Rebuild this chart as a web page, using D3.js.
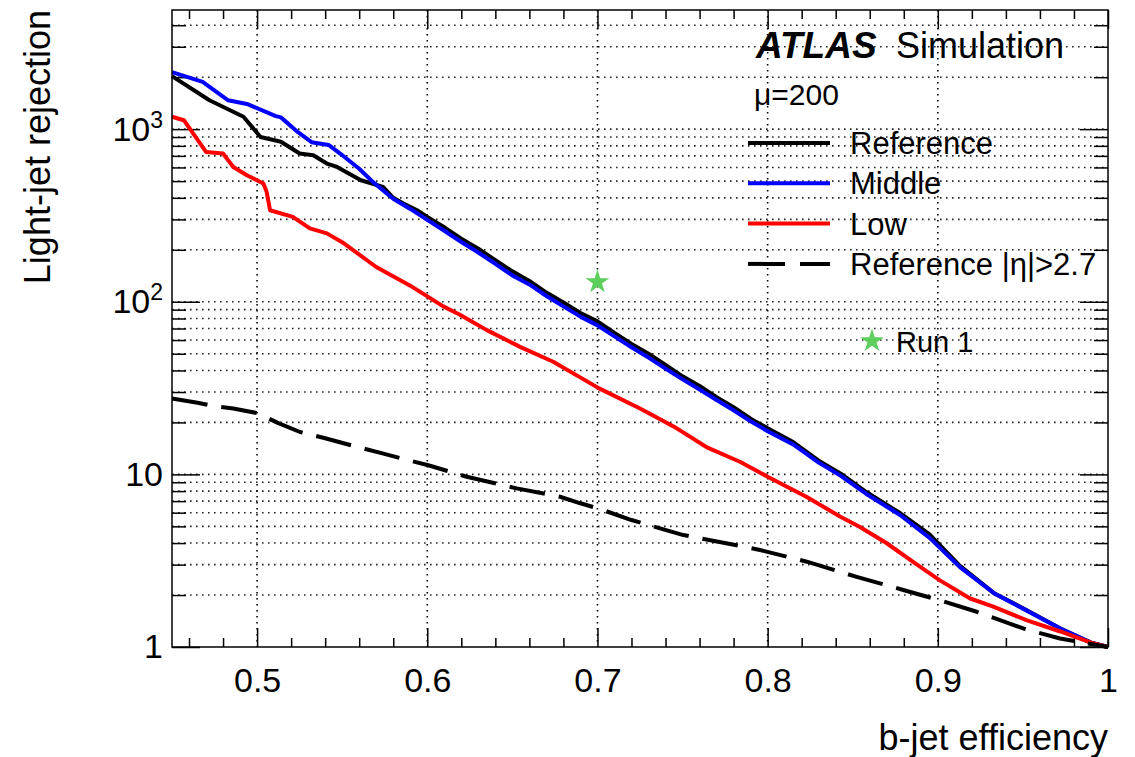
<!DOCTYPE html>
<html>
<head>
<meta charset="utf-8">
<script src="https://cdn.jsdelivr.net/npm/d3@7"></script>
<style>
  body { margin: 0; background: #fff; }
  svg { font-family: "Liberation Sans", Arial, Helvetica, sans-serif; }
</style>
</head>
<body>
<script>
// curves: [b-jet efficiency, light-jet rejection]
const refCurve = [[0.450,2030],[0.472,1470],[0.492,1180],[0.502,900],[0.514,845],[0.525,722],[0.533,706],
  [0.541,632],[0.547,604],[0.561,506],[0.574,463],[0.580,400],[0.586,371],[0.594,339],[0.600,310],[0.610,270],
  [0.620,232],[0.630,203],[0.640,174],[0.650,150],[0.660,132],[0.670,113],[0.680,99],[0.690,86],[0.700,77],
  [0.710,66],[0.720,57],[0.730,50],[0.740,43],[0.750,37],[0.760,32.5],[0.770,28],[0.780,24.5],[0.790,21],
  [0.800,18.5],[0.815,15.4],[0.830,12],[0.843,10.1],[0.858,7.9],[0.878,5.95],[0.895,4.5],[0.913,2.95],
  [0.933,2.05],[0.952,1.64],[0.972,1.28],[0.990,1.06],[1.0,1.0]]
const middleCurve = [[0.450,2140],[0.468,1880],[0.483,1470],[0.494,1400],[0.511,1190],[0.514,1170],[0.524,960],
  [0.532,840],[0.542,810],[0.549,720],[0.560,590],[0.568,495],[0.580,395],[0.590,345],[0.600,298],[0.610,258],
  [0.620,222],[0.630,193],[0.640,166],[0.650,142],[0.660,126],[0.670,108],[0.680,94],[0.690,82],[0.700,73],
  [0.710,63],[0.720,54.5],[0.730,47.5],[0.740,41],[0.750,35.5],[0.760,31],[0.770,27],[0.780,23.5],[0.790,20.3],
  [0.800,17.8],[0.815,14.9],[0.830,11.7],[0.843,9.8],[0.858,7.7],[0.878,5.8],[0.895,4.3],[0.913,2.9],
  [0.933,2.05],[0.952,1.63],[0.972,1.28],[0.990,1.06],[1.0,1.0]]
const lowCurve = [[0.450,1180],[0.457,1126],[0.4625,943],[0.470,738],[0.480,722],[0.486,604],[0.494,541],
  [0.5037,484],[0.5056,433],[0.5076,339],[0.521,310],[0.531,266],[0.541,249],[0.551,218],[0.570,159],
  [0.590,124],[0.6094,94],[0.6192,84],[0.635,68.5],[0.6545,54.8],[0.674,44.9],[0.701,31.5],[0.725,24.1],
  [0.745,18.9],[0.764,14.4],[0.784,11.8],[0.800,9.7],[0.823,7.4],[0.8425,5.7],[0.854,4.97],[0.870,3.99],
  [0.884,3.19],[0.901,2.44],[0.919,1.91],[0.933,1.71],[0.952,1.43],[0.972,1.23],[0.990,1.06],[1.0,1.0]]
const fwdCurve = [[0.450,27.5],[0.465,26],[0.475,24.8],[0.486,24.1],[0.5005,22.6],[0.5125,19.8],[0.5252,17.6],
  [0.540,16.2],[0.5546,14.8],[0.5742,13.2],[0.587,12.2],[0.6006,11.3],[0.6232,9.69],[0.6525,8.3],[0.678,7.42],
  [0.690,6.8],[0.7015,6.3],[0.720,5.44],[0.7505,4.45],[0.781,3.9],[0.7955,3.65],[0.823,3.12],[0.8523,2.55],
  [0.8797,2.14],[0.9007,1.87],[0.9229,1.60],[0.9502,1.28],[0.9718,1.12],[1.0,1.0]]
const run1Point = [[0.70, 130]]

const seriesNames = ['Reference', 'Middle', 'Low', 'Reference |η|>2.7']
const xTickValues = [0.5, 0.6, 0.7, 0.8, 0.9, 1.0]
const yTickValues = [1, 10, 100, 1000]

const W = 1135, H = 757
const padL = 172, padR = 1108, padT = 10, padB = 647

let svg = d3.select('body').append('svg')
    .attr('width', W)
    .attr('height', H)

let x = d3.scaleLinear().domain([0.45, 1]).range([padL, padR])
let y = d3.scaleLog().domain([1, 4900]).range([padB, padT])

let xMinor = d3.range(0.46, 0.999, 0.02).filter(v => !xTickValues.some(t => Math.abs(t - v) < 1e-6))
let yMinor = []
yTickValues.forEach(d => { for (let k = 2; k <= 9; k++) if (d * k < 4900) yMinor.push(d * k) })

// grid
let grid = svg.append('g').attr('stroke', '#000').attr('stroke-width', 1.6)
    .attr('stroke-dasharray', '1.6,4.4')
grid.selectAll('.gx').data(xTickValues.filter(v => v < 1)).join('line')
    .attr('x1', d => x(d)).attr('x2', d => x(d)).attr('y1', padT).attr('y2', padB)
grid.selectAll('.gy').data(yTickValues.slice(1).concat(yMinor)).join('line')
    .attr('y1', d => y(d)).attr('y2', d => y(d)).attr('x1', padL).attr('x2', padR)
    .attr('stroke-opacity', 0.85)

// ticks (inside the frame, on all four sides)
function ticks(axis, tr) {
    svg.append('g').attr('transform', tr).call(axis)
        .call(g => g.select('.domain').remove())
        .call(g => g.selectAll('line').attr('stroke', '#000').attr('stroke-width', 1.5))
}
ticks(d3.axisTop(x).tickValues(xTickValues).tickSize(19).tickFormat(''), `translate(0,${padB})`)
ticks(d3.axisTop(x).tickValues(xMinor).tickSize(9).tickFormat(''), `translate(0,${padB})`)
ticks(d3.axisBottom(x).tickValues(xTickValues).tickSize(19).tickFormat(''), `translate(0,${padT})`)
ticks(d3.axisBottom(x).tickValues(xMinor).tickSize(9).tickFormat(''), `translate(0,${padT})`)
ticks(d3.axisRight(y).tickValues(yTickValues).tickSize(28).tickFormat(''), `translate(${padL},0)`)
ticks(d3.axisRight(y).tickValues(yMinor).tickSize(14).tickFormat(''), `translate(${padL},0)`)
ticks(d3.axisLeft(y).tickValues(yTickValues).tickSize(28).tickFormat(''), `translate(${padR},0)`)
ticks(d3.axisLeft(y).tickValues(yMinor).tickSize(14).tickFormat(''), `translate(${padR},0)`)

// tick labels
svg.append('g').attr('transform', `translate(0,${padB})`)
    .call(d3.axisBottom(x).tickValues(xTickValues).tickSize(0).tickPadding(21)
        .tickFormat(d => d === 1 ? '1' : d3.format('.1f')(d)))
    .call(g => g.select('.domain').remove())
    .call(g => g.selectAll('text').attr('font-size', 34).attr('fill', '#000'))
    .attr('font-family', null)

svg.append('g').attr('transform', `translate(${padL},0)`)
    .call(d3.axisLeft(y).tickValues(yTickValues).tickSize(0).tickPadding(9).tickFormat(''))
    .call(g => g.select('.domain').remove())
    .attr('font-family', null)
    .call(g => g.selectAll('text').attr('font-size', 34).attr('fill', '#000')
        .each(function(d) {
            let t = d3.select(this)
            let e = Math.round(Math.log10(d))
            if (e < 2) { t.text(String(d)); return }
            t.append('tspan').text('10')
            t.append('tspan').attr('dy', -13).attr('font-size', 23).text(e)
        }))

// curves
let line = d3.line().x(d => x(d[0])).y(d => y(d[1]))
let curves = [
    { data: refCurve, color: '#000', dash: null },
    { data: middleCurve, color: '#0000ff', dash: null },
    { data: lowCurve, color: '#ff0000', dash: null },
    { data: fwdCurve, color: '#000', dash: '36,14' }
]
curves.forEach(c => {
    svg.append('path').datum(c.data)
        .attr('d', line)
        .attr('fill', 'none')
        .attr('stroke', c.color)
        .attr('stroke-width', 4)
        .attr('stroke-linejoin', 'round')
        .attr('stroke-dasharray', c.dash)
})

// Run 1 star
let star = d3.symbol(d3.symbolStar).size(175)
svg.selectAll('.run1').data(run1Point).join('path')
    .attr('d', star)
    .attr('transform', d => `translate(${x(d[0])},${y(d[1])})`)
    .attr('fill', '#5ccf5c')

// frame
svg.append('rect')
    .attr('x', padL).attr('y', padT)
    .attr('width', padR - padL).attr('height', padB - padT)
    .attr('fill', 'none').attr('stroke', '#000').attr('stroke-width', 1.5)

// axis titles
svg.append('text')
    .attr('x', padR).attr('y', 750)
    .attr('text-anchor', 'end')
    .attr('font-size', 36)
    .text('b-jet efficiency')
svg.append('text')
    .attr('transform', 'translate(50,10) rotate(-90)')
    .attr('text-anchor', 'end')
    .attr('font-size', 36)
    .text('Light-jet rejection')

// labels
svg.append('text').attr('x', 756).attr('y', 58).attr('font-size', 37)
    .attr('font-weight', 'bold').attr('font-style', 'italic').text('ATLAS')
svg.append('text').attr('x', 896).attr('y', 58).attr('font-size', 36).text('Simulation')
svg.append('text').attr('x', 754).attr('y', 105).attr('font-size', 30).text('μ=200')

// legend
let leg = svg.append('g')
seriesNames.forEach((name, i) => {
    let ly = 143 + i * 40.3
    leg.append('line')
        .attr('x1', 748).attr('x2', 830).attr('y1', ly).attr('y2', ly)
        .attr('stroke', curves[i].color).attr('stroke-width', 4)
        .attr('stroke-dasharray', curves[i].dash ? '37,15' : null)
    leg.append('text')
        .attr('x', 850).attr('y', ly + 11)
        .attr('font-size', 31)
        .text(name)
})
leg.append('path')
    .attr('d', star)
    .attr('transform', 'translate(872,341)')
    .attr('fill', '#5ccf5c')
leg.append('text').attr('x', 896).attr('y', 352).attr('font-size', 29).text('Run 1')
</script>
</body>
</html>
